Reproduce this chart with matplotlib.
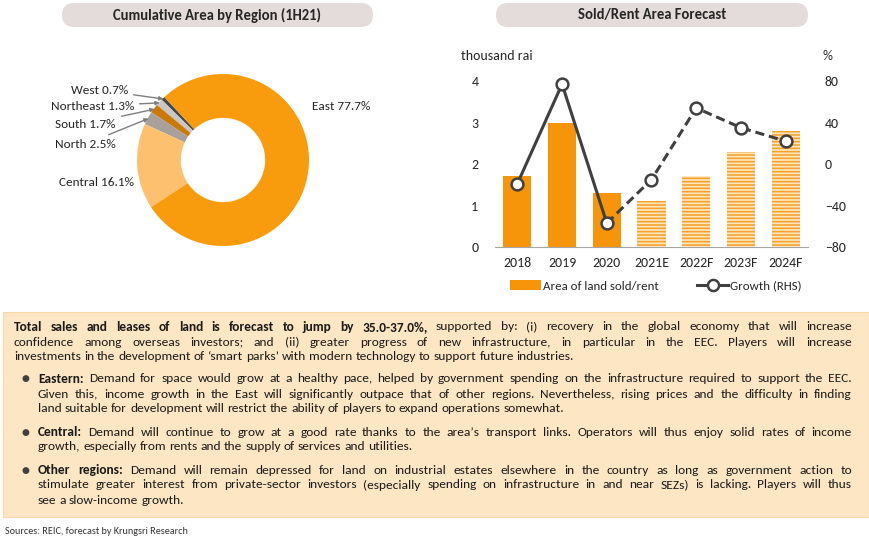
import matplotlib
matplotlib.use("Agg")
import matplotlib.pyplot as plt
from matplotlib import font_manager
from matplotlib.patches import FancyBboxPatch, Rectangle, Patch
from matplotlib.lines import Line2D
import numpy as np

# ---- data ----
regions = ["West", "Northeast", "South", "North", "Central", "East"]
shares = [0.7, 1.3, 1.7, 2.5, 16.1, 77.7]
region_colors = ["#4a4a4a", "#c9c6c3", "#c97a06", "#a8a19b", "#fcc06e", "#f89b0c"]

years = ["2018", "2019", "2020", "2021E", "2022F", "2023F", "2024F"]
area = [1.7, 3.0, 1.3, 1.1, 1.7, 2.3, 2.8]
growth = [-19, 77, -57, -15, 54, 35, 22]
n_actual = 3

title_left = "Cumulative Area by Region (1H21)"
title_right = "Sold/Rent Area Forecast"

para = [
    [("Total sales and leases of land is forecast to jump by 35.0-37.0%,", True),
     (" supported by: (i) recovery in the global economy that will increase", False)],
    [("confidence among overseas investors; and (ii) greater progress of new infrastructure, in particular in the EEC. Players will increase", False)],
    [("investments in the development of \u2018smart parks\u2019 with modern technology to support future industries.", False)],
]
bullets = [
    [[("Eastern:", True), (" Demand for space would grow at a healthy pace, helped by government spending on the infrastructure required to support the EEC.", False)],
     [("Given this, income growth in the East will significantly outpace that of other regions. Nevertheless, rising prices and the difficulty in finding", False)],
     [("land suitable for development will restrict the ability of players to expand operations somewhat.", False)]],
    [[("Central:", True), (" Demand will continue to grow at a good rate thanks to the area\u2019s transport links. Operators will thus enjoy solid rates of income", False)],
     [("growth, especially from rents and the supply of services and utilities.", False)]],
    [[("Other regions:", True), (" Demand will remain depressed for land on industrial estates elsewhere in the country as long as government action to", False)],
     [("stimulate greater interest from private-sector investors (especially spending on infrastructure in and near SEZs) is lacking. Players will thus", False)],
     [("see a slow-income growth.", False)]],
]
source = "Sources: REIC, forecast by Krungsri Research"


def pick(names):
    have = {f.name for f in font_manager.fontManager.ttflist}
    for n in names:
        if n in have:
            return n
    return "DejaVu Sans"


chart_font = pick(["Carlito", "Lato", "Liberation Sans"])
body_font = pick(["Carlito", "Liberation Sans Narrow", "Lato", "Liberation Sans"])
plt.rcParams["font.family"] = [chart_font, "DejaVu Sans"]
plt.rcParams["hatch.linewidth"] = 1.15

W, H = 870, 545
fig = plt.figure(figsize=(W / 100, H / 100), dpi=100)
txt = "#262626"


def fx(px):
    return px / W


def fy(py):
    return 1 - py / H


# title pills
for x0, x1, t in [(50, 385, title_left), (484, 820, title_right)]:
    fig.patches.append(FancyBboxPatch((fx(x0 + 12), fy(27)), fx(x1 - x0 - 24), 24 / H,
                                      boxstyle="round,pad=0,rounding_size=0.014",
                                      transform=fig.transFigure, fc="#e4dcdb", ec="none",
                                      mutation_aspect=W / H))
    fig.text(fx((x0 + x1) / 2), fy(15), t, ha="center", va="center",
             fontsize=10.5, fontweight="bold", color=txt)

# ---- donut ----
cx, cy, r = 223, 160, 86
ax1 = fig.add_axes([fx(cx - r), fy(cy + r), fx(2 * r), 2 * r / H])
wedges, _ = ax1.pie(shares, colors=region_colors, startangle=133, counterclock=True,
                    radius=1, wedgeprops=dict(width=0.51, edgecolor="none"))
ax1.set_xlim(-1, 1)
ax1.set_ylim(-1, 1)
ax1.set_aspect("equal")
ax1.axis("off")

label_pos = {"West": (128, 90), "Northeast": (134, 106), "South": (116, 124),
             "North": (116, 144)}
for w, name, s in zip(wedges, regions, shares):
    lab = f"{name} {s}%"
    if name in label_pos:
        mid = np.deg2rad((w.theta1 + w.theta2) / 2)
        px, py = label_pos[name]
        tx, ty = (px - cx) / r, (cy - py) / r
        ax1.annotate(lab, xy=(0.99 * np.cos(mid), 0.99 * np.sin(mid)), xytext=(tx, ty),
                     ha="right", va="center", fontsize=9.5, color=txt, annotation_clip=False,
                     arrowprops=dict(arrowstyle="-|>,head_length=0.25,head_width=0.12",
                                     color="#7f7f7f", lw=1, shrinkA=2, shrinkB=0))
    elif name == "Central":
        ax1.text((134 - cx) / r, (cy - 182) / r, lab, ha="right", va="center",
                 fontsize=9.5, color=txt)
    else:
        ax1.text((312 - cx) / r, (cy - 107) / r, lab, ha="left", va="center",
                 fontsize=9.5, color=txt)

# ---- bars + growth ----
ax2 = fig.add_axes([fx(495), fy(247), fx(808 - 495), (247 - 81) / H])
xpos = np.arange(len(years))
for i in xpos:
    if i < n_actual:
        ax2.bar(i, area[i], width=0.63, color="#f7950a", edgecolor="none")
    else:
        ax2.bar(i, area[i], width=0.63, color="#fde5bd", edgecolor="#f6a22a",
                hatch="-----", linewidth=0)
ax2.set_xlim(-0.5, len(years) - 0.5)
ax2.set_ylim(0, 4)
ax2.set_yticks([0, 1, 2, 3, 4])
ax2.set_xticks(xpos)
ax2.set_xticklabels(years)
for s in ["top", "left", "right"]:
    ax2.spines[s].set_visible(False)
ax2.spines["bottom"].set_color("#a6a6a6")
ax2.tick_params(axis="y", length=0, pad=12, labelsize=10, labelcolor=txt)
ax2.tick_params(axis="x", length=0, pad=7, labelsize=10, labelcolor=txt)

ax3 = ax2.twinx()
ax3.set_ylim(-80, 80)
ax3.set_yticks([-80, -40, 0, 40, 80])
for s in ["top", "left", "right", "bottom"]:
    ax3.spines[s].set_visible(False)
ax3.tick_params(axis="y", length=0, pad=12, labelsize=10, labelcolor=txt)
lc = "#404040"
ax3.plot(xpos[:n_actual], growth[:n_actual], color=lc, lw=2.2, zorder=3)
ax3.plot(xpos[n_actual - 1:], growth[n_actual - 1:], color=lc, lw=2.2, ls=(0, (3, 1.6)), zorder=3)
ax3.plot(xpos, growth, ls="none", marker="o", ms=8.5, mfc="white", mec=lc, mew=1.8, zorder=4,
         clip_on=False)

fig.text(fx(497), fy(56), "thousand rai", ha="center", va="center", fontsize=10, color=txt)
fig.text(fx(828), fy(56), "%", ha="center", va="center", fontsize=10, color=txt)

handles = [Patch(fc="#f7950a", ec="none"),
           Line2D([], [], color=lc, lw=2.2, marker="o", ms=8, mfc="white", mec=lc, mew=1.8)]
fig.legend(handles, ["Area of land sold/rent", "Growth (RHS)"], loc="center",
           bbox_to_anchor=(fx(656), fy(286)), ncol=2, frameon=False, fontsize=9.3,
           handlelength=2.4, handletextpad=0.15, columnspacing=3.0, labelcolor=txt)

# ---- text box ----
fig.patches.append(Rectangle((fx(3), fy(517)), fx(866), (517 - 312) / H, transform=fig.transFigure,
                             fc="#fde6c4", ec="#f7d9a8", lw=0.8))

renderer = fig.canvas.get_renderer()
body_size = 9.6 if body_font in ("Carlito", "Liberation Sans Narrow") else 8.7


def width_of(s, bold):
    t = fig.text(0, 0, s, fontsize=body_size, family=body_font,
                 fontweight="bold" if bold else "normal")
    w = t.get_window_extent(renderer).width
    t.remove()
    return w


space_w = width_of("a a", False) - width_of("aa", False)


def draw_line(segs, x0, x1, y, justify):
    words = []
    for t, b in segs:
        for wd in t.split():
            words.append((wd, b))
    arts, widths = [], []
    for wd, b in words:
        a = fig.text(0, fy(y), wd, fontsize=body_size, family=body_font, va="center",
                     fontweight="bold" if b else "normal", color="#1a1a1a")
        arts.append(a)
        widths.append(a.get_window_extent(renderer).width)
    gap = space_w
    if justify and len(words) > 1:
        gap = max((x1 - x0 - sum(widths)) / (len(words) - 1), space_w * 0.6)
    x = x0
    for a, w in zip(arts, widths):
        a.set_x(fx(x))
        x += w + gap


para_y = [327, 342, 357]
for k, (segs, y) in enumerate(zip(para, para_y)):
    draw_line(segs, 14, 852, y, k < len(para) - 1)

bullet_y = [[379, 394, 409], [432, 447], [470, 485, 500]]
for lines, ys in zip(bullets, bullet_y):
    fig.text(fx(25), fy(ys[0]), "\u25cf", fontsize=6.5, ha="center", va="center",
             color="#404040", family="DejaVu Sans")
    for k, (segs, y) in enumerate(zip(lines, ys)):
        draw_line(segs, 38, 852, y, k < len(lines) - 1)

fig.text(fx(5), fy(532), source, fontsize=7.3, family=body_font, va="center", color="#333333")

fig.savefig("out.png", dpi=100)
